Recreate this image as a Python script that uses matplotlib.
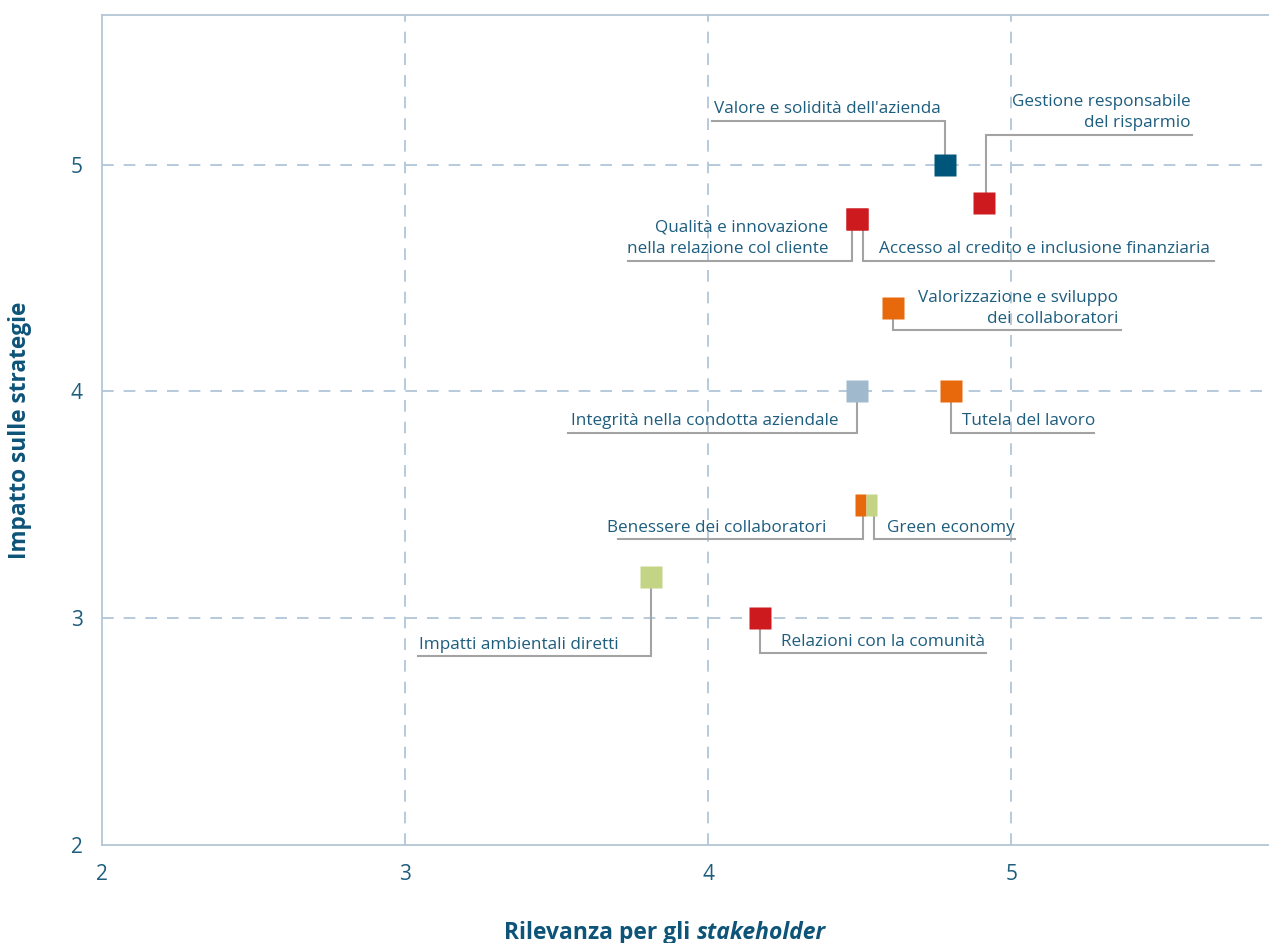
import matplotlib
matplotlib.use("Agg")
import matplotlib.pyplot as plt

plt.rcParams['font.family'] = ['Open Sans', 'DejaVu Sans']

# ---- data ----
labels = ["Valore e solidità dell'azienda",
          "Gestione responsabile\ndel risparmio",
          "Qualità e innovazione\nnella relazione col cliente",
          "Accesso al credito e inclusione finanziaria",
          "Valorizzazione e sviluppo\ndei collaboratori",
          "Integrità nella condotta aziendale",
          "Tutela del lavoro",
          "Benessere dei collaboratori",
          "Green economy",
          "Impatti ambientali diretti",
          "Relazioni con la comunità"]
rilevanza = [4.78, 4.91, 4.49, 4.49, 4.61, 4.49, 4.80, 4.52, 4.52, 3.81, 4.17]
impatto   = [5.00, 4.83, 4.76, 4.76, 4.37, 4.00, 4.00, 3.50, 3.50, 3.18, 3.00]
colori    = ['#00557a', '#cc1a1e', '#cc1a1e', '#cc1a1e', '#e8690c', '#a0b9cd',
             '#e8690c', '#e8690c', '#c3d585', '#c3d585', '#cc1a1e']
x_ticks = [2, 3, 4, 5]
y_ticks = [2, 3, 4, 5]

# ---- layout of label leaders (positions, not data) ----
# (text_x, ha, line_y, line_end_x, leader_x_offset, fill)
layout = [
    (4.020, 'left',  5.194, 4.013,  0.000, 'full'),
    (5.591, 'right', 5.132, 5.597,  0.005, 'full'),
    (4.396, 'right', 4.577, 3.736, -0.017, 'full'),
    (4.564, 'left',  4.577, 5.670,  0.019, 'full'),
    (5.353, 'right', 4.269, 5.363,  0.000, 'full'),
    (4.429, 'right', 3.819, 3.538,  0.000, 'full'),
    (4.838, 'left',  3.819, 5.274,  0.000, 'full'),
    (4.389, 'right', 3.348, 3.703, -0.010, 'left'),
    (4.591, 'left',  3.348, 5.013,  0.027, 'right'),
    (3.046, 'left',  2.833, 3.043,  0.000, 'full'),
    (4.241, 'left',  2.846, 4.917,  0.000, 'full'),
]

text_col = '#1d5d7e'
grid_col = '#a9c1d5'
lead_col = '#a3a3a3'

fig = plt.figure(figsize=(12.69, 9.43), dpi=100)
ax = fig.add_axes([0.0804, 0.1039, 0.9196, 0.8802])
ax.set_xlim(2, 5.85)
ax.set_ylim(2, 5.66)

for s in ['left', 'bottom', 'top']:
    ax.spines[s].set_color('#b3c6d6')
    ax.spines[s].set_linewidth(1.3)
ax.spines['right'].set_visible(False)

ax.set_xticks(x_ticks)
ax.set_yticks(y_ticks)
ax.tick_params(length=0, labelsize=15, labelcolor=text_col)
ax.tick_params(axis='y', pad=14)
ax.tick_params(axis='x', pad=14)
for v in x_ticks[1:]:
    ax.axvline(v, color=grid_col, lw=1.2, dashes=(7, 6), zorder=1)
for v in y_ticks[1:]:
    ax.axhline(v, color=grid_col, lw=1.2, dashes=(7, 6), zorder=1)

for lab, x, y, c, lay in zip(labels, rilevanza, impatto, colori, layout):
    tx, ha, ly, lx, dx, fill = lay
    vx = x + dx
    ax.plot([vx, vx, lx], [y, ly, ly], color=lead_col, lw=1.5, zorder=2,
            solid_joinstyle='miter')
    if fill == 'full':
        ax.plot(x, y, marker='s', ms=16, color=c, mec='none', zorder=3)
    else:
        ax.plot(x, y, marker='s', ms=16, color=c, mec='none', zorder=3,
                fillstyle=fill, markerfacecoloralt='none')
    ax.annotate(lab, xy=(tx, ly), xytext=(0, 2.5), textcoords='offset points',
                ha=ha, va='bottom', fontsize=12.3, color=text_col,
                linespacing=1.45, multialignment=ha)

# axis titles
ax.text(-0.070, 0.5, 'Impatto sulle strategie', transform=ax.transAxes,
        rotation=90, ha='center', va='center', fontsize=16.3,
        fontweight='bold', color='#0d5478')

fig.canvas.draw()
r = fig.canvas.get_renderer()
t1 = fig.text(0.5, -0.002, 'Rilevanza per gli ', ha='left', va='bottom',
              fontsize=16.5, fontweight='bold', color='#0d5478')
t2 = fig.text(0.5, -0.002, 'stakeholder', ha='left', va='bottom',
              fontsize=16.5, fontweight='bold', style='italic', color='#0d5478')
w1 = t1.get_window_extent(r).width
w2 = t2.get_window_extent(r).width
W = fig.bbox.width
cx = 665
t1.set_x((cx - (w1 + w2) / 2) / W)
t2.set_x((cx - (w1 + w2) / 2 + w1) / W)

fig.savefig('out.png', dpi=100)
